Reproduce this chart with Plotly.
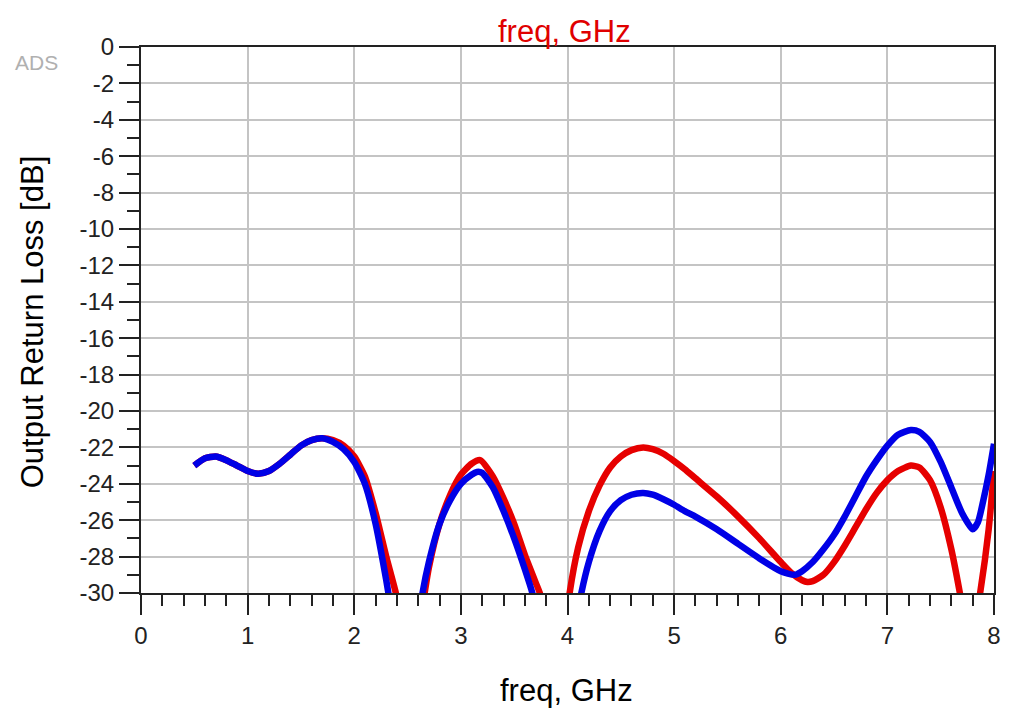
import plotly.graph_objects as go

# ---- data ----
freq_red = [0.5, 0.6, 0.7, 0.8, 0.9, 1.0, 1.1, 1.2, 1.3, 1.4, 1.5, 1.6, 1.7, 1.8, 1.9, 2.0, 2.1, 2.2, 2.3, 2.39, 2.42,
            None,
            2.62, 2.66, 2.7, 2.8, 2.9, 3.0, 3.1, 3.18, 3.3, 3.4, 3.5, 3.6, 3.7, 3.74, 3.77,
            None,
            3.99, 4.02, 4.1, 4.2, 4.3, 4.4, 4.5, 4.6, 4.71, 4.8, 4.9, 5.0, 5.1, 5.2, 5.4, 5.6, 5.8, 6.0, 6.1, 6.2, 6.25,
            6.3, 6.4, 6.5, 6.6, 6.7, 6.8, 6.9, 7.0, 7.1, 7.22, 7.3, 7.4, 7.5, 7.6, 7.68, 7.71,
            None,
            7.84, 7.87, 7.95, 8.0]
rl_red = [-23.0, -22.6, -22.5, -22.7, -23.0, -23.3, -23.45, -23.3, -22.9, -22.4, -21.9, -21.6, -21.5, -21.6, -21.9, -22.5, -23.6, -25.6, -28.0, -30.0, -31.0,
          None,
          -31.5, -30.0, -28.6, -26.2, -24.6, -23.5, -22.9, -22.7, -23.6, -24.8, -26.2, -27.9, -29.4, -30.0, -31.0,
          None,
          -31.5, -30.0, -27.5, -25.5, -24.1, -23.1, -22.5, -22.15, -22.0, -22.1, -22.35, -22.75, -23.2, -23.7, -24.7, -25.8, -27.0, -28.3, -28.9, -29.3, -29.4,
          -29.35, -29.0, -28.3, -27.4, -26.4, -25.4, -24.5, -23.8, -23.3, -23.0, -23.1, -23.8, -25.3, -27.6, -30.0, -31.0,
          None,
          -31.0, -30.0, -26.5, -23.3]

freq_blue = [0.5, 0.6, 0.7, 0.8, 0.9, 1.0, 1.1, 1.2, 1.3, 1.4, 1.5, 1.6, 1.7, 1.8, 1.9, 2.0, 2.1, 2.2, 2.3, 2.32, 2.35,
             None,
             2.61, 2.64, 2.7, 2.8, 2.9, 3.0, 3.1, 3.15, 3.2, 3.3, 3.4, 3.5, 3.6, 3.67, 3.7,
             None,
             4.1, 4.13, 4.2, 4.3, 4.4, 4.5, 4.6, 4.71, 4.8, 4.9, 5.0, 5.1, 5.2, 5.4, 5.6, 5.8, 6.0, 6.13,
             6.2, 6.3, 6.4, 6.5, 6.6, 6.7, 6.8, 6.9, 7.0, 7.1, 7.22, 7.3, 7.4, 7.5, 7.6, 7.7, 7.8, 7.85, 7.9, 7.95, 8.0]
rl_blue = [-23.0, -22.6, -22.5, -22.7, -23.0, -23.3, -23.45, -23.3, -22.9, -22.4, -21.9, -21.6, -21.5, -21.7, -22.1, -22.8, -24.0, -26.2, -29.3, -30.0, -31.0,
           None,
           -31.2, -30.0, -28.3, -26.2, -24.9, -24.0, -23.5, -23.35, -23.4, -24.2, -25.5, -27.0, -28.7, -30.0, -31.0,
           None,
           -31.0, -30.0, -28.3, -26.6, -25.5, -24.9, -24.6, -24.5, -24.6, -24.85, -25.15, -25.5, -25.8, -26.5, -27.3, -28.1, -28.8, -29.0,
           -28.8, -28.3, -27.6, -26.8, -25.8, -24.7, -23.6, -22.7, -21.9, -21.3, -21.05, -21.15, -21.7, -22.8, -24.2, -25.6, -26.5, -26.1, -24.9, -23.5, -21.8]

x_ticks = [0, 1, 2, 3, 4, 5, 6, 7, 8]
y_ticks = list(range(0, -31, -2))

FONT = "Liberation Sans, Arial, sans-serif"

fig = go.Figure()
fig.add_trace(go.Scatter(x=freq_red, y=rl_red, mode="lines",
                         line=dict(color="#e60000", width=6.5, shape="spline", smoothing=0.6),
                         connectgaps=False, showlegend=False, hoverinfo="skip"))
fig.add_trace(go.Scatter(x=freq_blue, y=rl_blue, mode="lines",
                         line=dict(color="#0000e6", width=6.5, shape="spline", smoothing=0.6),
                         connectgaps=False, showlegend=False, hoverinfo="skip"))

fig.update_layout(
    width=1013, height=720,
    margin=dict(l=141, r=12, t=47, b=127),
    paper_bgcolor="white", plot_bgcolor="white",
    font=dict(family=FONT, color="black"),
    xaxis=dict(
        range=[0, 8], tickvals=x_ticks, ticktext=[str(v) for v in x_ticks],
        showgrid=True, gridcolor="#c4c4c4", gridwidth=1.5,
        showline=True, linecolor="#222", linewidth=2, mirror=True,
        ticks="outside", ticklen=20, tickwidth=2, tickcolor="#222",
        tickfont=dict(size=24, family=FONT, color="#222"),
        minor=dict(dtick=0.2, ticks="outside", ticklen=11, tickwidth=2, tickcolor="#222", showgrid=False),
        zeroline=False,
    ),
    yaxis=dict(
        range=[-30, 0], tickvals=y_ticks, ticktext=[str(v) for v in y_ticks],
        showgrid=True, gridcolor="#c4c4c4", gridwidth=1.5,
        showline=True, linecolor="#222", linewidth=2, mirror=True,
        ticks="outside", ticklen=20, tickwidth=2, tickcolor="#222",
        tickfont=dict(size=24, family=FONT, color="#222"),
        minor=dict(dtick=1, ticks="outside", ticklen=12, tickwidth=2, tickcolor="#222", showgrid=False),
        zeroline=False,
    ),
)

# axis titles and labels placed as annotations
fig.add_annotation(text="Output Return Loss [dB]", xref="paper", yref="paper", x=-0.127, y=0.497,
                   xanchor="center", yanchor="middle", textangle=-90, showarrow=False,
                   font=dict(size=31, family=FONT, color="black"))
fig.add_annotation(text="freq, GHz", xref="paper", yref="paper", x=0.4988, y=-0.178,
                   xanchor="center", yanchor="middle", showarrow=False,
                   font=dict(size=31, family=FONT, color="black"))
fig.add_annotation(text="freq, GHz", xref="paper", yref="paper", x=0.4965, y=1.0275,
                   xanchor="center", yanchor="middle", showarrow=False,
                   font=dict(size=31, family=FONT, color="#e00000"))
fig.add_annotation(text="ADS", xref="paper", yref="paper", x=-0.122, y=0.9707,
                   xanchor="center", yanchor="middle", showarrow=False,
                   font=dict(size=21, family=FONT, color="#b0b0b0"))

fig.write_html("out.html", config={"displayModeBar": False},
               post_script="document.body.style.margin='0';document.body.style.overflow='hidden';")
